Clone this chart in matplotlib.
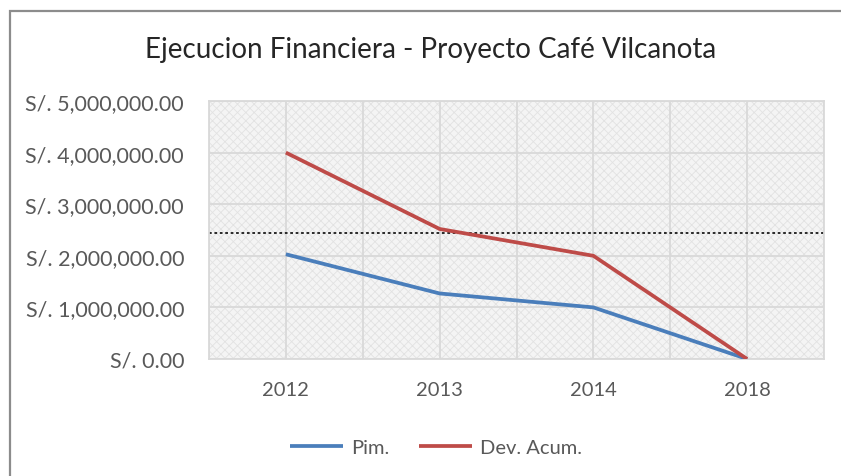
import numpy as np
import matplotlib
matplotlib.use("Agg")
import matplotlib.pyplot as plt
from matplotlib.patches import Rectangle
from matplotlib.ticker import FuncFormatter

# data
years = ["2012", "2013", "2014", "2018"]
pim = [2030000, 1270000, 1000000, 0]
dev_acum = [4000000, 2520000, 2000000, 0]
ref_level = 2440000  # dotted black line across the plot
y_ticks = [0, 1000000, 2000000, 3000000, 4000000, 5000000]

TXT = "#595959"
plt.rcParams["font.family"] = ["Lato", "DejaVu Sans"]
plt.rcParams["hatch.linewidth"] = 0.6

fig = plt.figure(figsize=(8.41, 4.77), dpi=100)
fig.patch.set_facecolor("white")

# outer chart border (cropped at right / bottom in the reference)
fig.patches.append(Rectangle((10 / 841, -0.05), 1.0, 1 - 12 / 477 + 0.05,
                             transform=fig.transFigure, fill=False,
                             edgecolor="#8c8c8c", lw=1.6, zorder=0))

ax = fig.add_axes([209 / 841, 1 - 360 / 477, (824 - 209) / 841, (360 - 102) / 477])
ax.set_facecolor("#f4f4f4")
ax.add_patch(Rectangle((0, 0), 1, 1, transform=ax.transAxes, facecolor="none",
                       edgecolor="#e2e2e2", hatch="xxxx", lw=0, zorder=0))

x = np.arange(len(years))
ax.plot(x, pim, color="#4a7ebb", lw=2.7, label="Pim.", zorder=3,
        solid_capstyle="butt", solid_joinstyle="miter")
ax.plot(x, dev_acum, color="#be4b48", lw=2.7, label="Dev. Acum.", zorder=3,
        solid_capstyle="butt", solid_joinstyle="miter")
ax.axhline(ref_level, color="#1a1a1a", lw=1.3, ls=(0, (1.5, 1.5)), zorder=2)

ax.set_xlim(-0.5, len(years) - 0.5)
ax.set_ylim(0, 5000000)
ax.set_xticks(x)
ax.set_xticklabels(years)
ax.set_xticks(np.arange(-0.5, len(years), 1.0), minor=True)
ax.set_yticks(y_ticks)
ax.yaxis.set_major_formatter(FuncFormatter(lambda v, p: "S/. {:,.2f}".format(v)))
ax.grid(True, which="both", color="#d9d9d9", lw=1.3, zorder=1)
ax.set_axisbelow(True)
ax.tick_params(which="both", length=0)
ax.tick_params(axis="y", labelsize=15.5, labelcolor=TXT, pad=18)
ax.tick_params(axis="x", labelsize=14.5, labelcolor=TXT, pad=16)
for s in ax.spines.values():
    s.set_color("#d9d9d9")
    s.set_linewidth(1.3)

fig.text(431 / 841, 1 - 50 / 477, "Ejecucion Financiera - Proyecto Café Vilcanota",
         ha="center", va="center", fontsize=20, color="#262626")

leg = fig.legend(loc="center", bbox_to_anchor=(436 / 841, 1 - 448 / 477), ncol=2,
                 frameon=False, fontsize=14.5, handlelength=2.6, handletextpad=0.4,
                 columnspacing=1.5)
for t in leg.get_texts():
    t.set_color(TXT)

fig.savefig("out.png", dpi=100)
